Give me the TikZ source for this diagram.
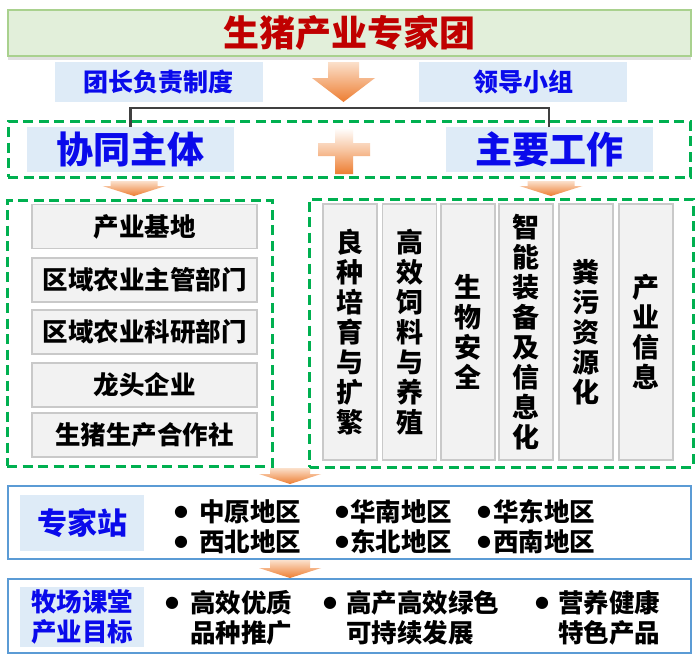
\documentclass[tikz,border=0pt]{standalone}
\usepackage{fontspec}
\setmainfont{Noto Sans CJK SC}
\newfontfamily\symfont{DejaVu Sans}
\usetikzlibrary{shadows}
\definecolor{titlefill}{HTML}{E2EFDA}
\definecolor{titleline}{HTML}{A9D18E}
\definecolor{titlered}{HTML}{C00000}
\definecolor{lblue}{HTML}{DEEBF7}
\definecolor{tblue}{RGB}{10,10,235}
\definecolor{dgreen}{HTML}{00B050}
\definecolor{itemfill}{HTML}{F2F2F2}
\definecolor{itemline}{HTML}{C9C9C9}
\definecolor{oblue}{HTML}{5B9BD5}
\definecolor{arrtop}{HTML}{FBE0CB}
\definecolor{arrbot}{HTML}{ED7D31}
\newcommand\orarrow[6]{%
  \shade[top color=arrtop, bottom color=arrbot]
   ({#1-#5/2},#2) -- ({#1+#5/2},#2) -- ({#1+#5/2},#3) -- ({#1+#6/2},#3) --
   (#1,#4) -- ({#1-#6/2},#3) -- ({#1-#5/2},#3) -- cycle;}
\tikzset{
 titlebox/.style={draw=titleline, line width=1.5pt, fill=titlefill, inner sep=0pt,
   minimum width=683pt, minimum height=46pt,
   font=\fontsize{36}{40}\selectfont\bfseries, text=titlered,
   drop shadow={shadow xshift=0pt, shadow yshift=-4pt, opacity=0.12, fill=black}},
 subbox/.style={fill=lblue, inner sep=0pt, minimum width=208pt, minimum height=40pt,
   font=\fontsize{25}{28}\selectfont\bfseries, text=tblue},
 bigbox/.style={fill=lblue, inner sep=0pt, minimum width=207pt, minimum height=45pt,
   font=\fontsize{37}{40}\selectfont\bfseries, text=tblue},
 greendash/.style={draw=dgreen, line width=3pt, dash pattern=on 10pt off 5.5pt, inner sep=0pt},
 itembox/.style={draw=itemline, line width=1.2pt, fill=itemfill, inner sep=0pt,
   minimum width=225pt, minimum height=44pt, font=\fontsize{25.5}{28}\selectfont\bfseries},
 colbox/.style={draw=itemline, line width=1.2pt, fill=itemfill, inner sep=0pt,
   minimum width=54pt, minimum height=256pt, align=center,
   font=\fontsize{27}{30}\selectfont\bfseries},
 outerbox/.style={draw=oblue, line width=1.5pt, fill=white, inner sep=0pt, minimum width=683pt},
 labelbox/.style={fill=lblue, inner sep=0pt, minimum width=124pt, text=tblue, align=center},
 bullettext/.style={anchor=west, inner sep=0pt, font=\fontsize{25.5}{30}\selectfont\bfseries, align=left},
 bulletdot/.style={inner sep=0pt, font=\symfont\fontsize{16}{16}\selectfont},
 bracketline/.style={draw=black!75, line width=2.5pt},
}
\begin{document}
\begin{tikzpicture}[x=1pt,y=-1pt]
\useasboundingbox (0,0) rectangle (700,661);
\fill[white] (0,0) rectangle (700,661);

% title
\node[titlebox] (title) at (349.5,33) {生猪产业专家团};

% second row
\node[subbox] (tz) at (158.5,82) {团长负责制度};
\node[subbox] (ld) at (523,82) {领导小组};
\orarrow{343.5}{62}{78}{102}{31}{63}

% middle dashed row
\node[greendash, minimum width=682pt, minimum height=56pt] (mid) at (349,149) {};
\node[bigbox] (xt) at (130.5,149.5) {协同主体};
\node[bigbox] (zy) at (549,149.5) {主要工作};
\draw[bracketline] (xt.north) -- ++(0,-19) -| (zy.north);
\shade[top color=white, bottom color=arrbot, middle color=arrtop!70!arrbot]
  (335,128) -- (353,128) -- (353,143) -- (370,143) -- (370,156) -- (353,156) --
  (353,174) -- (335,174) -- (335,156) -- (318,156) -- (318,143) -- (335,143) -- cycle;

\orarrow{134}{181}{186}{196}{47}{63}
\orarrow{551}{181}{186}{196}{47}{63}

% left dashed group
\node[greendash, minimum width=265pt, minimum height=266pt] (left) at (139.5,333) {};
\node[itembox] (i1) at (144.5,226.5) {产业基地};
\node[itembox] (i2) at (144.5,280) {区域农业主管部门};
\node[itembox] (i3) at (144.5,332) {区域农业科研部门};
\node[itembox] (i4) at (144.5,385) {龙头企业};
\node[itembox] (i5) at (144.5,435) {生猪生产合作社};

% right dashed group
\node[greendash, minimum width=384pt, minimum height=268pt] (right) at (501,333) {};
\node[colbox] (c1) at (350,332) {良\\种\\培\\育\\与\\扩\\繁};
\node[colbox] (c2) at (409.5,332) {高\\效\\饲\\料\\与\\养\\殖};
\node[colbox] (c3) at (468,332) {生\\物\\安\\全};
\node[colbox] (c4) at (526,332) {智\\能\\装\\备\\及\\信\\息\\化};
\node[colbox] (c5) at (586,332) {粪\\污\\资\\源\\化};
\node[colbox] (c6) at (646,332) {产\\业\\信\\息};

\orarrow{290}{468}{474}{484}{40}{62}

% expert station
\node[outerbox, minimum height=73pt] (zjz) at (349.5,522.5) {};
\node[labelbox, minimum height=56pt, font=\fontsize{30}{34}\selectfont\bfseries] (zjzl) at (82,523) {专家站};
\node[bulletdot] (b11) at (181,512) {●};
\node[bullettext] (t11) at (199,512) {中原地区};
\node[bulletdot] (b12) at (342,512) {●};
\node[bullettext] (t12) at (350,512) {华南地区};
\node[bulletdot] (b13) at (484,512) {●};
\node[bullettext] (t13) at (493,512) {华东地区};
\node[bulletdot] (b21) at (181,542) {●};
\node[bullettext] (t21) at (199,542) {西北地区};
\node[bulletdot] (b22) at (342,542) {●};
\node[bullettext] (t22) at (350,542) {东北地区};
\node[bulletdot] (b23) at (484,542) {●};
\node[bullettext] (t23) at (493,542) {西南地区};

\orarrow{290}{560}{568}{578}{40}{62}

% ranch classroom
\node[outerbox, minimum height=74pt] (mc) at (349.5,616) {};
\node[labelbox, minimum height=60pt, font=\fontsize{25.5}{30}\selectfont\bfseries] (mcl) at (82,617) {牧场课堂\\产业目标};
\node[bulletdot] (m1) at (172,603) {●};
\node[bullettext] (mt1) at (190,618) {高效优质\\品种推广};
\node[bulletdot] (m2) at (330,603) {●};
\node[bullettext] (mt2) at (346,618) {高产高效绿色\\可持续发展};
\node[bulletdot] (m3) at (542,603) {●};
\node[bullettext] (mt3) at (558,618) {营养健康\\特色产品};
\end{tikzpicture}
\end{document}
